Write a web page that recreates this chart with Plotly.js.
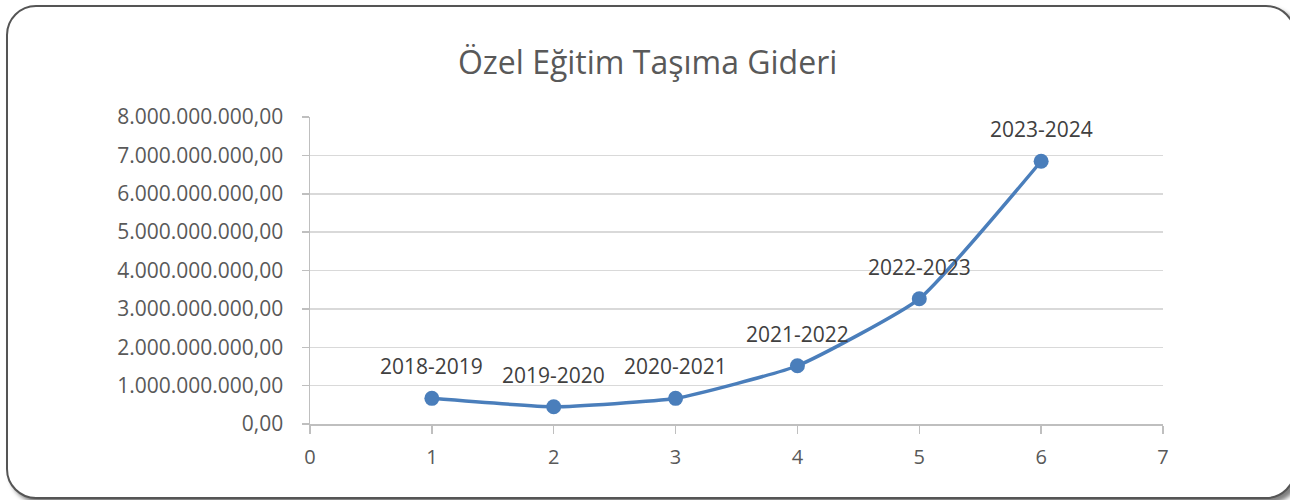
<!DOCTYPE html>
<html>
<head>
<meta charset="utf-8">
<script src="https://cdn.plot.ly/plotly-3.0.1.min.js"></script>
<style>
  html, body { margin: 0; padding: 0; background: #ffffff; }
  #frame { position: absolute; left: 6px; top: 5px; width: 1286px; height: 490px;
           border: 2px solid #555555; border-radius: 30px; background: #ffffff;
           box-shadow: 4px 4px 4px rgba(0,0,0,0.5); }
  #chart { position: absolute; left: 0; top: 0; width: 1290px; height: 500px; }
</style>
</head>
<body>
<div id="frame"></div>
<div id="chart"></div>
<script>
const xValues = [1, 2, 3, 4, 5, 6];
const yValues = [669000000, 450000000, 669000000, 1518000000, 3262000000, 6847000000];
const pointLabels = ['2018-2019', '2019-2020', '2020-2021', '2021-2022', '2022-2023', '2023-2024'];
const chartTitle = 'Özel Eğitim Taşıma Gideri';

const trace = {
  x: xValues,
  y: yValues,
  type: 'scatter',
  mode: 'lines+markers',
  line: { color: '#4a7ebb', width: 3.5, shape: 'spline', smoothing: 0.45 },
  marker: { color: '#4a7ebb', size: 15 },
  hoverinfo: 'skip'
};

const annotations = xValues.map((x, i) => ({
  x: x, y: yValues[i], xref: 'x', yref: 'y',
  text: pointLabels[i], showarrow: false, yshift: 32,
  font: { family: 'Open Sans', size: 21, color: '#404040' }
}));

const layout = {
  width: 1290, height: 500,
  margin: { l: 310, r: 127, t: 117, b: 76 },
  paper_bgcolor: 'rgba(0,0,0,0)',
  plot_bgcolor: 'rgba(0,0,0,0)',
  separators: ',.',
  showlegend: false,
  title: { text: chartTitle, x: 0.502, xanchor: 'center', y: 0.874, yanchor: 'middle',
           font: { family: 'Open Sans', size: 32, color: '#595959' } },
  xaxis: {
    range: [0, 7], dtick: 1, tick0: 0, showgrid: false, zeroline: false,
    showline: true, linecolor: '#bfbfbf', linewidth: 1.5,
    ticks: 'outside', ticklen: 8, tickcolor: '#bfbfbf', tickwidth: 1.5,
    ticklabelstandoff: 6,
    tickfont: { family: 'Open Sans', size: 20, color: '#595959' }
  },
  yaxis: {
    range: [0, 8000000000], dtick: 1000000000, tick0: 0, tickformat: ',.2f',
    showgrid: true, gridcolor: '#d9d9d9', gridwidth: 1.5, zeroline: false,
    showline: true, linecolor: '#bfbfbf', linewidth: 1.5,
    ticks: 'outside', ticklen: 7, tickcolor: '#bfbfbf', tickwidth: 1.5,
    ticklabelstandoff: 14,
    tickfont: { family: 'Open Sans', size: 21, color: '#595959' }
  },
  annotations: annotations
};

Plotly.newPlot('chart', [trace], layout, { displayModeBar: false, staticPlot: true });
</script>
</body>
</html>
